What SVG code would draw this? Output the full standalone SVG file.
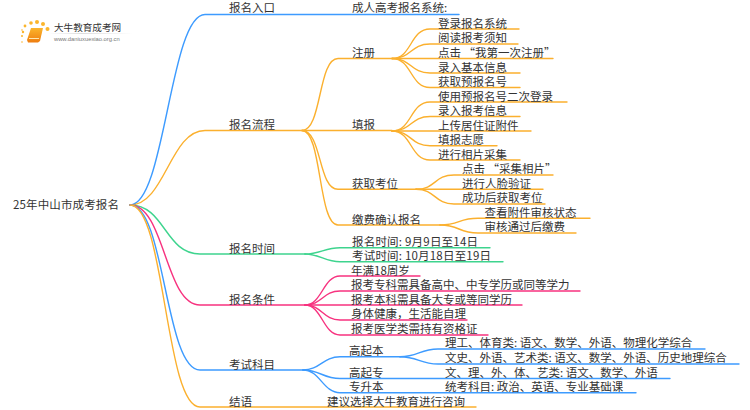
<svg xmlns="http://www.w3.org/2000/svg" width="750" height="410" viewBox="0 0 750 410">
<defs><linearGradient id="bk" x1="0" y1="0" x2="0" y2="1"><stop offset="0" stop-color="#fbb52c"/><stop offset="1" stop-color="#ee7d10"/></linearGradient>
<linearGradient id="rule" x1="0" y1="0" x2="1" y2="0"><stop offset="0" stop-color="#ddd" stop-opacity="0"/><stop offset=".4" stop-color="#ddd"/><stop offset="1" stop-color="#ddd" stop-opacity="0"/></linearGradient></defs>
<style>
text{font-family:"Noto Sans CJK SC","Liberation Sans",sans-serif;font-size:11.5px;fill:#333}
path{fill:none;stroke-width:1.4;stroke-linecap:round}
.b{stroke:#3d9bff}.y{stroke:#fbb02e}.g{stroke:#3ed48e}.p{stroke:#f7327f}
.dot{fill:#fbb52c}
</style>
<rect width="750" height="410" fill="#fff"/>
<g id="logo">
<circle class="dot" cx="23" cy="32" r="1.2"/><circle class="dot" cx="22" cy="30" r="0.8"/><circle class="dot" cx="22" cy="36" r="1"/><circle class="dot" cx="25" cy="26" r="1.4"/><circle class="dot" cx="31" cy="23" r="1.8"/><circle class="dot" cx="37" cy="22" r="2"/><circle class="dot" cx="43" cy="24" r="2"/><circle class="dot" cx="47.500" cy="29" r="2"/><circle class="dot" cx="22" cy="42" r="0.8"/>
<polygon points="31,28 43,28 40,41 38,42.500 28,42.500 27,40" fill="url(#bk)"/>
<rect x="29" y="38" width="10" height="1" fill="#fde7b0"/>
<rect x="48" y="33" width="85" height="1" fill="url(#rule)"/>
<text x="54" y="31" style="font-size:9.600px" fill="#444">大牛教育成考网</text>
<text x="54" y="41" style="font-size:5.800px;fill:#777;font-family:'Liberation Sans',sans-serif">www.daniuxuexiao.org.cn</text>
</g>
<g id="connectors">
<path class="b" d="M130 205C165 205 170 14.500 205 14.500H459"/>
<path class="y" d="M130 205C165 205 170 130.500 205 130.500H302"/>
<path class="y" d="M302 130.500C322 130.500 318 58.500 338 58.500H392"/>
<path class="y" d="M302 130.500H392"/>
<path class="y" d="M302 130.500C322 130.500 318 189.300 338 189.300H416"/>
<path class="y" d="M302 130.500C322 130.500 318 225 338 225H440"/>
<path class="y" d="M392 58.500C412 58.500 410 29 430 29H519"/>
<path class="y" d="M392 58.500C412 58.500 410 44 430 44H518"/>
<path class="y" d="M392 58.500H553"/>
<path class="y" d="M392 58.500C412 58.500 410 73 430 73H520"/>
<path class="y" d="M392 58.500C412 58.500 410 87.500 430 87.500H520"/>
<path class="y" d="M392 131C412 131 410 102 430 102H567"/>
<path class="y" d="M392 131C412 131 410 116.500 430 116.500H520"/>
<path class="y" d="M392 131H531"/>
<path class="y" d="M392 131C412 131 410 145.700 430 145.700H497"/>
<path class="y" d="M392 131C412 131 410 160 430 160H520"/>
<path class="y" d="M416 189.300C436 189.300 434 175 454 175H553"/>
<path class="y" d="M416 189.300H543"/>
<path class="y" d="M416 189.300C436 189.300 434 204 454 204H545"/>
<path class="y" d="M440 225C460 225 458 218.300 478 218.300H590"/>
<path class="y" d="M440 225C460 225 458 233 478 233H576"/>
<path class="g" d="M130 205C165 205 165 254 200 254H305"/>
<path class="g" d="M305 254C320 254 325 247.700 340 247.700H490"/>
<path class="g" d="M305 254C320 254 325 261.700 340 261.700H503"/>
<path class="p" d="M130 205C165 205 165 305 200 305H305"/>
<path class="p" d="M305 305C322 305 323 276 340 276H420"/>
<path class="p" d="M305 305C322 305 323 291 340 291H580"/>
<path class="p" d="M305 305H522"/>
<path class="p" d="M305 305C322 305 323 320 340 320H467"/>
<path class="p" d="M305 305C322 305 323 335 340 335H488"/>
<path class="b" d="M130 205C165 205 165 370 200 370H303"/>
<path class="b" d="M303 370C320 370 323 356.700 340 356.700H400"/>
<path class="b" d="M303 370C320 370 323 378.500 340 378.500H670"/>
<path class="b" d="M303 370C320 370 323 392.700 340 392.700H636"/>
<path class="b" d="M400 356.700C418 356.700 420 349 438 349H705"/>
<path class="b" d="M400 356.700C418 356.700 420 364 438 364H739"/>
<path class="y" d="M130 205C165 205 165 407 200 407H476"/>
</g>
<g id="root"><text x="13" y="209" textLength="106">25年中山市成考报名</text></g>
<g id="n-entry"><text x="229" y="12">报名入口</text></g>
<g id="n-entry-1"><text x="352" y="12">成人高考报名系统:</text></g>
<g id="n-flow"><text x="229" y="129">报名流程</text></g>
<g id="n-reg"><text x="352" y="57">注册</text></g>
<g id="n-reg-1"><text x="438" y="27.500">登录报名系统</text></g>
<g id="n-reg-2"><text x="438" y="42">阅读报考须知</text></g>
<g id="n-reg-3"><text x="438" y="57">点击 “我第一次注册”</text></g>
<g id="n-reg-4"><text x="438" y="71.500">录入基本信息</text></g>
<g id="n-reg-5"><text x="438" y="86">获取预报名号</text></g>
<g id="n-fill"><text x="352" y="129">填报</text></g>
<g id="n-fill-1"><text x="438" y="100.500">使用预报名号二次登录</text></g>
<g id="n-fill-2"><text x="438" y="115">录入报考信息</text></g>
<g id="n-fill-3"><text x="438" y="129.500">上传居住证附件</text></g>
<g id="n-fill-4"><text x="438" y="144">填报志愿</text></g>
<g id="n-fill-5"><text x="438" y="158.500">进行相片采集</text></g>
<g id="n-seat"><text x="352" y="187.500">获取考位</text></g>
<g id="n-seat-1"><text x="462" y="173">点击 “采集相片”</text></g>
<g id="n-seat-2"><text x="462" y="187.500">进行人脸验证</text></g>
<g id="n-seat-3"><text x="462" y="202">成功后获取考位</text></g>
<g id="n-pay"><text x="352" y="223.500">缴费确认报名</text></g>
<g id="n-pay-1"><text x="484.500" y="216.500">查看附件审核状态</text></g>
<g id="n-pay-2"><text x="484.500" y="231">审核通过后缴费</text></g>
<g id="n-time"><text x="229" y="252.500">报名时间</text></g>
<g id="n-time-1"><text x="352" y="245.500" textLength="126">报名时间: 9月9日至14日</text></g>
<g id="n-time-2"><text x="352" y="260" textLength="139">考试时间: 10月18日至19日</text></g>
<g id="n-cond"><text x="229" y="303.500">报名条件</text></g>
<g id="n-cond-1"><text x="351" y="274.500">年满18周岁</text></g>
<g id="n-cond-2"><text x="351" y="289">报考专科需具备高中、中专学历或同等学力</text></g>
<g id="n-cond-3"><text x="351" y="303.500">报考本科需具备大专或等同学历</text></g>
<g id="n-cond-4"><text x="351" y="318">身体健康，生活能自理</text></g>
<g id="n-cond-5"><text x="351" y="332.500">报考医学类需持有资格证</text></g>
<g id="n-subj"><text x="229" y="369">考试科目</text></g>
<g id="n-gqb"><text x="349" y="355">高起本</text></g>
<g id="n-gqb-1"><text x="445" y="347">理工、体育类: 语文、数学、外语、物理化学综合</text></g>
<g id="n-gqb-2"><text x="445" y="361.500">文史、外语、艺术类: 语文、数学、外语、历史地理综合</text></g>
<g id="n-gqz"><text x="349" y="376.500">高起专</text></g>
<g id="n-gqz-1"><text x="445" y="376.500">文、理、外、体、艺类: 语文、数学、外语</text></g>
<g id="n-zsb"><text x="349" y="391">专升本</text></g>
<g id="n-zsb-1"><text x="445" y="391">统考科目: 政治、英语、专业基础课</text></g>
<g id="n-end"><text x="229" y="405.500">结语</text></g>
<g id="n-end-1"><text x="327" y="405.500">建议选择大牛教育进行咨询</text></g>
</svg>
